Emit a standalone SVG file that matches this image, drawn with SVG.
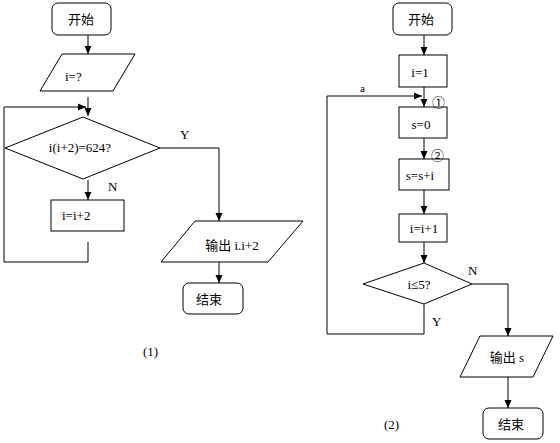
<svg xmlns="http://www.w3.org/2000/svg" width="560" height="443" viewBox="0 0 560 443">
<style>
.s{fill:#fff;stroke:#000;stroke-width:1}
.l{fill:none;stroke:#000;stroke-width:1}
.t{font-family:"Liberation Serif","Noto Sans CJK SC",serif;font-size:13px;fill:#000}
.c{text-anchor:middle}
.k{font-family:"Noto Sans CJK SC","DejaVu Sans",sans-serif;font-size:13px;fill:#000}
</style>
<defs>
<marker id="a" viewBox="0 0 8 8" refX="8" refY="4" markerWidth="8" markerHeight="8" markerUnits="userSpaceOnUse" orient="auto">
<path d="M0,0.5 L8,4 L0,7.5 Z" fill="#000"/>
</marker>
</defs>
<g id="connectors">
<path class="l" d="M88,35 V54" marker-end="url(#a)"/>
<path class="l" d="M88,97 V116" marker-end="url(#a)"/>
<path class="l" d="M4,148 V107 H86" marker-end="url(#a)"/>
<path class="l" d="M88,180 V200" marker-end="url(#a)"/>
<path class="l" d="M88,242 V262 H4 V148"/>
<path class="l" d="M160,148 H219 V221" marker-end="url(#a)"/>
<path class="l" d="M219,262 V283" marker-end="url(#a)"/>
<path class="l" d="M424,35 V55" marker-end="url(#a)"/>
<path class="l" d="M424,87 V107" marker-end="url(#a)"/>
<path class="l" d="M424,304 V334 H327 V96 H422" marker-end="url(#a)"/>
<path class="l" d="M424,138 V159" marker-end="url(#a)"/>
<path class="l" d="M424,190 V214" marker-end="url(#a)"/>
<path class="l" d="M424,242 V263" marker-end="url(#a)"/>
<path class="l" d="M472,284 H508 V336" marker-end="url(#a)"/>
<path class="l" d="M508,377 V408" marker-end="url(#a)"/>
</g>
<g id="start1"><rect class="s" x="52" y="3" width="59" height="32" rx="6"/><text class="t c" x="81" y="24">开始</text></g>
<g id="input1"><polygon class="s" points="62,54 135,54 113,91 40,91"/><text class="t" x="65" y="81">i=?</text></g>
<g id="cond1"><polygon class="s" points="83,117 160,148 83,179 5,148"/><text class="t c" x="80" y="152">i(i+2)=624?</text></g>
<g id="inc1"><rect class="s" x="51" y="200" width="73" height="31"/><text class="t" x="62" y="220">i=i+2</text></g>
<g id="out1"><polygon class="s" points="195,221 303,221 268,262 161,262"/><text class="t c" x="232" y="250">输出 i.i+2</text></g>
<g id="end1"><rect class="s" x="183" y="283" width="60" height="31" rx="6"/><text class="t c" x="209" y="304">结束</text></g>
<text class="t" x="180" y="139">Y</text>
<text class="t" x="108" y="191">N</text>
<text class="t" x="143" y="356">(1)</text>
<g id="start2"><rect class="s" x="393" y="3" width="59" height="32" rx="6"/><text class="t c" x="421" y="24">开始</text></g>
<g id="init2"><rect class="s" x="399" y="55" width="48" height="32"/><text class="t c" x="420" y="77">i=1</text></g>
<g id="s0"><rect class="s" x="399" y="107" width="48" height="31"/><text class="t c" x="421" y="129">s=0</text></g>
<g id="sum2"><rect class="s" x="399" y="159" width="50" height="31"/><text class="t c" x="420" y="180">s=s+i</text></g>
<g id="inc2"><rect class="s" x="399" y="214" width="48" height="28"/><text class="t c" x="424" y="233">i=i+1</text></g>
<g id="cond2"><polygon class="s" points="424,263 472,284 424,304 363,284"/><text class="t c" x="419" y="289">i≤5?</text></g>
<g id="out2"><polygon class="s" points="480,336 553,336 533,377 460,377"/><text class="t c" x="507" y="362">输出 s</text></g>
<g id="end2"><rect class="s" x="483" y="408" width="60" height="31" rx="6"/><text class="t c" x="511" y="429">结束</text></g>
<text class="t" x="360" y="92" style="font-size:11px">a</text>
<text class="k" x="432" y="107">①</text>
<text class="k" x="431" y="160">②</text>
<text class="t" x="468" y="275">N</text>
<text class="t" x="432" y="326">Y</text>
<text class="t" x="384" y="429">(2)</text>
</svg>
